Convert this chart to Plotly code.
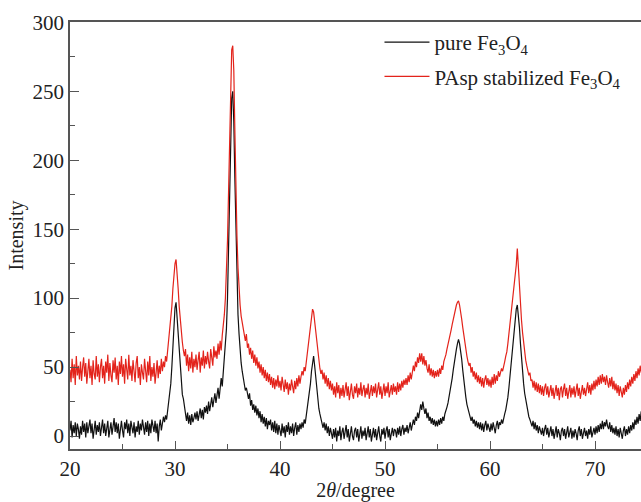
import plotly.graph_objects as go

# 2-theta grid start/step (degrees)
theta_start = 20.0
theta_step = 0.1

# pure Fe3O4 intensities, one row per degree (20.0 ... 74.7)
pure_fe3o4 = [
    4, 11, -1, 8, 2, 10, 0, 9, 5, -2,
    7, 1, 11, 3, 9, -1, 10, 2, 7, 12,
    2, 9, -2, 6, 11, 1, 8, 3, 10, 0,
    6, 12, 2, 9, 0, 7, 11, -1, 6, 10,
    1, 8, 13, 3, 10, 2, 9, -2, 7, 11,
    4, -1, 10, 5, 12, 2, 9, 0, 11, 6,
    2, 10, -1, 7, 3, 11, 1, 9, 4, 12,
    7, 1, 10, 3, 11, 0, 9, 2, 12, 5,
    3, 11, 2, 9, -4, 7, 12, 4, 10, 14,
    10, 15, 12, 18, 22, 29, 38, 50, 66, 82,
    93, 97, 86, 74, 58, 46, 37, 30, 27, 21,
    16, 11, 17, 9, 15, 8, 16, 10, 13, 17,
    12, 18, 11, 16, 20, 13, 19, 12, 21, 17,
    22, 16, 25, 18, 24, 28, 21, 27, 31, 24,
    30, 35, 27, 38, 42, 36, 45, 54, 64, 78,
    100, 132, 172, 215, 245, 250, 228, 187, 145, 110,
    88, 74, 61, 53, 47, 43, 37, 33, 35, 29,
    27, 31, 22, 26, 19, 23, 17, 22, 15, 20,
    13, 18, 10, 16, 9, 14, 7, 13, 5, 11,
    8, 12, 4, 10, 3, 11, 2, 9, 1, 8,
    5, 0, 9, 2, 7, -1, 8, 3, 10, 1,
    7, 2, 9, 0, 6, 10, 1, 8, 3, 9,
    5, 10, 6, 12, 9, 15, 18, 23, 30, 38,
    47, 55, 58, 51, 42, 33, 26, 20, 16, 13,
    11, 6, 10, 4, 9, 2, 7, 0, 6, 1,
    -2, 5, -1, 6, -4, 4, 0, 7, -3, 3,
    6, -2, 4, 8, -1, 5, -4, 3, 7, 0,
    -3, 4, 6, -1, 5, -4, 3, 7, -2, 4,
    0, 6, -3, 4, 7, -1, 5, -4, 3, 6,
    -1, 5, -3, 4, 7, 0, -4, 5, 1, 6,
    -2, 4, 7, -1, 5, -3, 3, 6, 0, 5,
    4, -1, 6, 1, 7, 0, 5, 8, 1, 6,
    3, 8, 2, 7, 10, 4, 9, 12, 8, 14,
    11, 17, 13, 20, 23, 19, 25, 20, 16, 20,
    13, 17, 11, 14, 9, 13, 8, 12, 7, 11,
    7, 12, 8, 13, 9, 14, 11, 16, 18, 21,
    24, 28, 32, 37, 42, 48, 54, 59, 63, 67,
    70, 67, 62, 56, 48, 40, 33, 28, 23, 20,
    16, 14, 11, 14, 9, 12, 7, 11, 6, 10,
    5, 10, 4, 9, 3, 8, 11, 4, 9, 6,
    3, 9, 4, 10, 6, 2, 8, 11, 5, 10,
    8, 12, 9, 14, 16, 19, 23, 28, 35, 43,
    51, 59, 67, 76, 85, 92, 95, 89, 79, 67,
    56, 46, 38, 31, 26, 21, 18, 14, 12, 10,
    7, 11, 5, 10, 4, 8, 2, 7, 3, 1,
    6, 0, 5, 8, 1, 6, -1, 4, 7, 0,
    5, -2, 4, 7, -1, 5, 2, -3, 4, 6,
    0, 5, -2, 4, 7, -1, 2, 6, -2, 4,
    -1, 5, 2, -3, 4, 7, 0, 5, -2, 3,
    6, 0, 4, -2, 5, 1, 7, -1, 4, 6,
    1, 7, 2, 8, 3, 9, 5, 11, 5, 10,
    7, 12, 7, 5, 10, 3, 8, 2, 6, 1,
    7, 0, 5, -1, 6, 1, -2, 4, 7, 0,
    5, 1, 7, 2, 8, 4, 10, 5, 12, 8,
    14, 9, 16, 11, 18, 13, 20, 17,
]

# PAsp stabilized Fe3O4 intensities, same grid
pasp_fe3o4 = [
    48, 39, 56, 42, 52, 37, 58, 44, 51, 41,
    54, 40, 50, 57, 43, 53, 38, 49, 56, 42,
    51, 37, 55, 45, 41, 58, 43, 52, 39, 50,
    56, 42, 51, 38, 54, 46, 59, 40, 53, 44,
    39, 55, 46, 57, 41, 51, 37, 54, 45, 58,
    43, 52, 38, 56, 47, 41, 59, 44, 51, 40,
    55, 45, 39, 53, 58, 42, 50, 37, 52, 46,
    41, 56, 47, 39, 54, 44, 58, 40, 50, 43,
    53, 38, 46, 55, 42, 51, 45, 56, 47, 54,
    50, 58, 54, 62, 67, 74, 82, 94, 107, 119,
    125, 128, 119, 107, 94, 83, 75, 68, 62, 58,
    63, 51, 59, 47, 57, 49, 61, 46, 56, 50,
    59, 48, 55, 61, 46, 57, 51, 62, 49, 58,
    52, 61, 54, 49, 63, 55, 51, 65, 57, 62,
    56, 67, 59, 69, 62, 73, 79, 88, 100, 117,
    142, 177, 217, 255, 280, 283, 265, 222, 178, 145,
    122, 105, 95, 87, 82, 77, 73, 69, 74, 64,
    67, 59, 64, 56, 62, 53, 59, 51, 57, 49,
    54, 46, 52, 44, 50, 42, 48, 40, 46, 39,
    45, 37, 43, 35, 42, 34, 41, 36, 44, 35,
    40, 33, 43, 35, 32, 41, 34, 39, 30, 38,
    33, 41, 35, 31, 40, 34, 42, 36, 44, 38,
    43, 47, 44, 50, 47, 54, 59, 64, 71, 79,
    87, 92, 90, 83, 74, 66, 59, 53, 49, 45,
    48, 41, 46, 38, 44, 36, 42, 34, 40, 33,
    38, 30, 36, 28, 39, 31, 37, 27, 35, 29,
    37, 28, 34, 39, 29, 36, 26, 35, 38, 30,
    27, 36, 31, 38, 28, 35, 30, 39, 29, 34,
    37, 28, 35, 30, 38, 27, 34, 37, 29, 36,
    31, 38, 28, 35, 39, 30, 36, 27, 34, 38,
    29, 36, 31, 39, 28, 35, 37, 30, 38, 32,
    36, 30, 39, 32, 38, 33, 40, 35, 41, 37,
    42, 37, 44, 39, 46, 41, 48, 51, 47, 54,
    50, 57, 53, 60, 54, 60, 52, 58, 51, 55,
    49, 46, 52, 44, 49, 43, 48, 42, 47, 43,
    48, 43, 49, 45, 51, 48, 54, 56, 59, 63,
    66, 69, 73, 77, 81, 85, 89, 93, 95, 97,
    98, 95, 91, 85, 79, 73, 67, 62, 58, 54,
    51, 53, 46, 50, 43, 47, 41, 46, 39, 44,
    38, 43, 36, 42, 35, 41, 44, 37, 42, 36,
    41, 35, 43, 37, 45, 38, 44, 40, 47, 43,
    46, 49, 47, 52, 54, 58, 61, 67, 74, 81,
    87, 95, 103, 111, 118, 124, 136, 121, 109, 97,
    84, 75, 67, 60, 55, 51, 48, 44, 46, 40,
    41, 35, 40, 33, 39, 32, 38, 31, 37, 30,
    36, 29, 35, 38, 30, 36, 28, 34, 37, 29,
    35, 27, 33, 37, 29, 35, 26, 34, 36, 28,
    34, 38, 29, 35, 27, 33, 37, 28, 35, 30,
    36, 28, 34, 38, 29, 35, 27, 33, 37, 30,
    35, 29, 36, 39, 31, 37, 30, 38, 33, 40,
    34, 41, 36, 43, 37, 44, 38, 45, 39, 43,
    37, 44, 39, 35, 42, 36, 43, 34, 40, 33,
    38, 31, 37, 29, 36, 32, 28, 35, 30, 37,
    32, 39, 34, 41, 36, 43, 38, 45, 40, 47,
    42, 49, 44, 51, 46, 53, 48, 52,
]

series_names = ["pure Fe<sub>3</sub>O<sub>4</sub>",
                "PAsp stabilized Fe<sub>3</sub>O<sub>4</sub>"]
x_ticks = [20, 30, 40, 50, 60, 70]
y_ticks = [0, 50, 100, 150, 200, 250, 300]

theta_pure = [round(theta_start + theta_step * i, 1) for i in range(len(pure_fe3o4))]
theta_pasp = [round(theta_start + theta_step * i, 1) for i in range(len(pasp_fe3o4))]

FONT = "Liberation Serif, Times New Roman, serif"
AX = "#555555"

fig = go.Figure()
fig.add_trace(go.Scatter(x=theta_pure, y=pure_fe3o4, mode="lines",
                         name=series_names[0], legendgroup="a",
                         line=dict(color="#111111", width=1.2)))
fig.add_trace(go.Scatter(x=theta_pasp, y=pasp_fe3o4, mode="lines",
                         name=series_names[1], legendgroup="b",
                         line=dict(color="#e3231b", width=1.2)))

fig.update_layout(
    width=641, height=502,
    margin=dict(l=70, r=0, t=22, b=53, autoexpand=False),
    paper_bgcolor="white", plot_bgcolor="white",
    font=dict(family=FONT, size=21, color="#222222"),
    showlegend=True,
    legend=dict(x=0.542, y=1.0, xanchor="left", yanchor="top",
                bgcolor="rgba(0,0,0,0)", font=dict(size=21, family=FONT),
                tracegroupgap=4, itemwidth=45),
    xaxis=dict(range=[20, 74.38], tickvals=x_ticks, ticks="inside", ticklen=8,
               tickwidth=1, tickcolor=AX, showline=True, linecolor=AX,
               linewidth=1.5, mirror=True, showgrid=False, zeroline=False,
               automargin=False,
               minor=dict(ticks="inside", ticklen=5, dtick=5, tickcolor=AX),
               title=dict(text="2<i>θ</i>/degree", font=dict(size=20), standoff=2),
               tickfont=dict(size=21)),
    yaxis=dict(range=[-9.4, 300.2], tickvals=y_ticks, ticks="inside", ticklen=9,
               tickwidth=1, tickcolor=AX, showline=True, linecolor=AX,
               linewidth=1.5, showgrid=False, zeroline=False,
               automargin=False,
               minor=dict(ticks="inside", ticklen=5, dtick=25, tickcolor=AX),
               title=dict(text="Intensity", font=dict(size=20), standoff=4),
               tickfont=dict(size=21)),
)

fig.write_html(
    "out.html",
    config={"displayModeBar": False},
    post_script="document.body.style.margin='0';document.body.style.overflow='hidden';",
)
